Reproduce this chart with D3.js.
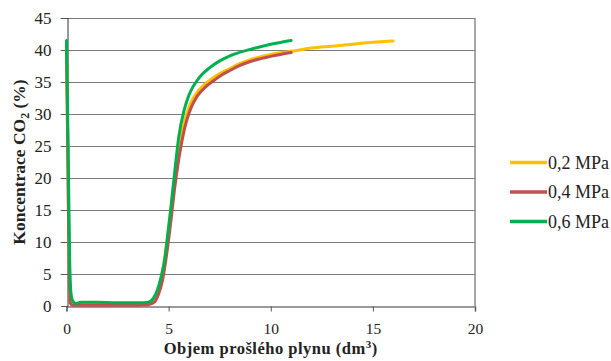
<!DOCTYPE html>
<html>
<head>
<meta charset="utf-8">
<script src="https://cdn.jsdelivr.net/npm/d3@7"></script>
<style>
  body { margin: 0; background: #fff; }
  svg { display: block; }
  text { font-family: "Liberation Serif", "Times New Roman", serif; fill: #222; }
</style>
</head>
<body>
<div id="chart"></div>
<script>
// series data (x = dm3, y = %)
const seriesNames = ['0,2 MPa', '0,4 MPa', '0,6 MPa'];
const seriesColors = ['#FFC000', '#C0504D', '#00B050'];

const x02 = [0, 0.06, 0.12, 0.2, 0.35, 1, 2, 3, 4, 4.25, 4.45, 4.65, 4.85, 5.05, 5.25, 5.45, 5.75, 6.05, 6.35, 6.75, 7.15, 7.55, 8.0, 8.5, 9.0, 10.0, 11.0, 12.0, 13.0, 14.0, 15.0, 16.0];
const y02 = [41, 25, 8, 1, 0.3, 0.3, 0.3, 0.3, 0.4, 0.9, 2.2, 4.5, 8.5, 13.5, 19, 23.5, 28.5, 31.5, 33.2, 34.6, 35.6, 36.4, 37.1, 37.9, 38.5, 39.3, 39.8, 40.3, 40.6, 40.9, 41.2, 41.4];

const x04 = [0, 0.06, 0.12, 0.18, 0.3, 1, 2, 3, 4, 4.3, 4.5, 4.7, 4.9, 5.1, 5.3, 5.5, 5.8, 6.1, 6.4, 6.8, 7.2, 7.6, 8.0, 8.5, 9.0, 10.0, 11.0];
const y04 = [41, 25, 8, 0.5, 0.1, 0.1, 0.1, 0.1, 0.2, 0.6, 1.8, 4, 8, 13, 18.5, 23, 28, 31, 32.8, 34.2, 35.2, 36.1, 36.8, 37.6, 38.2, 39.0, 39.6];

const x06 = [0, 0.08, 0.15, 0.22, 0.3, 0.45, 0.7, 1.5, 2.5, 3.5, 4.0, 4.25, 4.45, 4.65, 4.82, 4.95, 5.1, 5.3, 5.5, 5.75, 6.0, 6.5, 7.0, 7.5, 8.0, 9.0, 10.0, 11.0];
const y06 = [41.5, 25, 8, 2, 0.8, 0.4, 0.6, 0.6, 0.5, 0.5, 0.6, 1.2, 2.5, 4.8, 7.5, 11, 15, 21, 26.5, 30.5, 33, 35.7, 37.2, 38.3, 39.1, 40.1, 40.9, 41.5];

const xTicks = [0, 5, 10, 15, 20];
const yTicks = [0, 5, 10, 15, 20, 25, 30, 35, 40, 45];

const width = 611, height = 361;
const margin = { top: 18, right: 136, bottom: 55, left: 66.5 };

const svg = d3.select('#chart').append('svg')
    .attr('width', width)
    .attr('height', height);

const x = d3.scaleLinear().domain([0, 20]).range([margin.left, width - margin.right]);
const y = d3.scaleLinear().domain([0, 45]).range([height - margin.bottom, margin.top]);

// gridlines
svg.append('g')
    .selectAll('line')
    .data(yTicks.filter(d => d > 0))
    .join('line')
    .attr('x1', x(0) - 6).attr('x2', x(20))
    .attr('y1', d => Math.round(y(d)) + 0.5).attr('y2', d => Math.round(y(d)) + 0.5)
    .attr('stroke', '#7a7a7a')
    .attr('stroke-width', 1);

// right border
svg.append('line')
    .attr('x1', x(20)).attr('x2', x(20))
    .attr('y1', y(45)).attr('y2', y(0))
    .attr('stroke', '#8a8a8a').attr('stroke-width', 1.5);

// x axis
const xAxis = svg.append('g')
    .attr('transform', `translate(0,${Math.round(y(0)) + 0.5})`)
    .call(d3.axisBottom(x).tickValues(xTicks).tickSize(5).tickPadding(11));
xAxis.select('.domain').attr('stroke', '#7a7a7a').attr('stroke-width', 1.5);
xAxis.selectAll('.tick line').attr('stroke', '#555');
xAxis.selectAll('text').attr('font-size', 15.5).attr('fill', '#222')
    .style('font-family', '"Liberation Serif", serif');

// y axis
const yAxis = svg.append('g')
    .attr('transform', `translate(${Math.round(x(0)) + 0.5},0)`)
    .call(d3.axisLeft(y).tickValues(yTicks).tickSize(6).tickPadding(10));
yAxis.select('.domain').attr('stroke', '#333');
yAxis.selectAll('.tick line').attr('stroke', '#555');
yAxis.selectAll('text').attr('font-size', 17).attr('fill', '#222')
    .style('font-family', '"Liberation Serif", serif');

// series lines
const series = [
    { name: seriesNames[0], color: seriesColors[0], xs: x02, ys: y02 },
    { name: seriesNames[1], color: seriesColors[1], xs: x04, ys: y04 },
    { name: seriesNames[2], color: seriesColors[2], xs: x06, ys: y06 }
];

const line = d3.line()
    .x(d => x(d[0]))
    .y(d => y(d[1]))
    .curve(d3.curveMonotoneX);

svg.append('g')
    .selectAll('path')
    .data(series)
    .join('path')
    .attr('d', s => line(s.xs.map((v, i) => [v, s.ys[i]])))
    .attr('fill', 'none')
    .attr('stroke', s => s.color)
    .attr('stroke-width', 3)
    .attr('stroke-linejoin', 'round')
    .attr('stroke-linecap', 'round');

// axis titles
svg.append('text')
    .attr('x', (x(0) + x(20)) / 2)
    .attr('y', 354)
    .attr('text-anchor', 'middle')
    .attr('font-size', 16.5)
    .attr('font-weight', 'bold')
    .attr('letter-spacing', 0.5)
    .html('Objem prošlého plynu (dm<tspan dy="-6" font-size="11">3</tspan><tspan dy="6">)</tspan>');

svg.append('text')
    .attr('transform', `translate(25,${(y(0) + y(45)) / 2}) rotate(-90)`)
    .attr('text-anchor', 'middle')
    .attr('font-size', 17.5)
    .attr('font-weight', 'bold')
    .html('Koncentrace CO<tspan dy="4" font-size="12">2</tspan><tspan dy="-4"> (%)</tspan>');

// legend
const legend = svg.append('g')
    .selectAll('g')
    .data(series)
    .join('g')
    .attr('transform', (d, i) => `translate(510,${162.5 + i * 29.5})`);

legend.append('line')
    .attr('x1', 0).attr('x2', 37)
    .attr('stroke', d => d.color)
    .attr('stroke-width', 3.5);

legend.append('text')
    .attr('x', 38)
    .attr('y', 6)
    .attr('font-size', 18)
    .text(d => d.name);
</script>
</body>
</html>
